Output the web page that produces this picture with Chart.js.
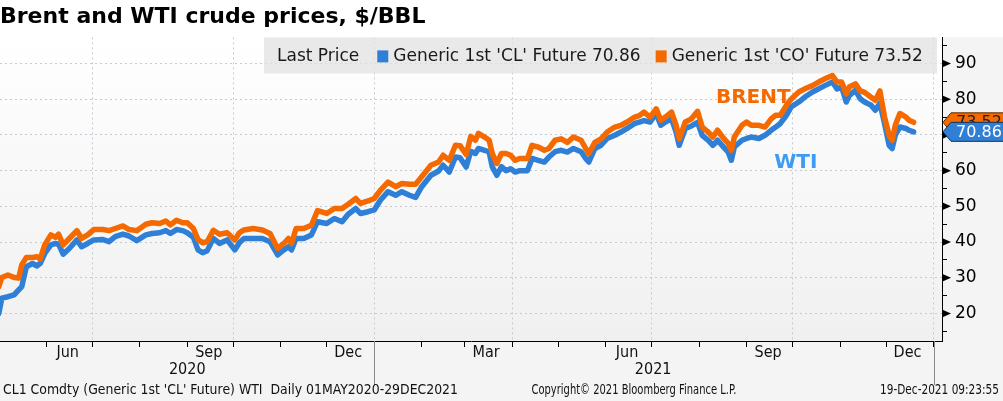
<!DOCTYPE html>
<html>
<head>
<meta charset="utf-8">
<title>Brent and WTI crude prices</title>
<script src="https://cdn.jsdelivr.net/npm/chart.js@4.4.1/dist/chart.umd.min.js"></script>
<style>
  html, body { margin: 0; padding: 0; background: #fff; }
</style>
</head>
<body>
<canvas id="crudeChart" width="1003" height="401"></canvas>
<script>
// price readings, Bloomberg generic 1st futures
const dates = [
  '2020-05-01','2020-05-03','2020-05-07','2020-05-11','2020-05-14','2020-05-16','2020-05-19','2020-05-23','2020-05-26','2020-05-28','2020-05-31',
  '2020-06-04','2020-06-07','2020-06-09','2020-06-12','2020-06-16','2020-06-21','2020-06-24','2020-06-28',
  '2020-07-02','2020-07-08','2020-07-12','2020-07-16','2020-07-21','2020-07-25','2020-07-30',
  '2020-08-05','2020-08-09','2020-08-14','2020-08-18','2020-08-21','2020-08-25','2020-08-29',
  '2020-09-01','2020-09-05','2020-09-08','2020-09-11','2020-09-14','2020-09-18','2020-09-22','2020-09-27',
  '2020-10-02','2020-10-05','2020-10-08','2020-10-14','2020-10-20','2020-10-25','2020-10-30',
  '2020-11-03','2020-11-06','2020-11-08','2020-11-11','2020-11-16','2020-11-21','2020-11-25',
  '2020-12-01','2020-12-06','2020-12-11','2020-12-15','2020-12-20','2020-12-23','2020-12-28',
  '2021-01-01','2021-01-05','2021-01-10','2021-01-15','2021-01-19','2021-01-24','2021-01-28',
  '2021-02-01','2021-02-07','2021-02-12','2021-02-15','2021-02-19','2021-02-23','2021-02-26',
  '2021-03-02','2021-03-05','2021-03-08','2021-03-10','2021-03-14','2021-03-17','2021-03-19','2021-03-22','2021-03-25','2021-03-28','2021-03-31',
  '2021-04-03','2021-04-06','2021-04-11','2021-04-14','2021-04-18','2021-04-22','2021-04-25','2021-04-29',
  '2021-05-03','2021-05-07','2021-05-11','2021-05-16','2021-05-19','2021-05-21','2021-05-25','2021-05-29',
  '2021-06-02','2021-06-07','2021-06-11','2021-06-15','2021-06-20','2021-06-23','2021-06-26','2021-06-30',
  '2021-07-04','2021-07-07','2021-07-10','2021-07-14','2021-07-17','2021-07-19','2021-07-23','2021-07-27','2021-07-31',
  '2021-08-03','2021-08-07','2021-08-10','2021-08-13','2021-08-17','2021-08-20','2021-08-22','2021-08-24','2021-08-29',
  '2021-09-01','2021-09-04','2021-09-09','2021-09-13','2021-09-17','2021-09-20','2021-09-23','2021-09-27','2021-09-30',
  '2021-10-05','2021-10-09','2021-10-14','2021-10-18','2021-10-22','2021-10-27','2021-10-30',
  '2021-11-02','2021-11-05','2021-11-07','2021-11-11','2021-11-14','2021-11-17','2021-11-21','2021-11-24','2021-11-27','2021-11-30',
  '2021-12-03','2021-12-05','2021-12-07','2021-12-10','2021-12-14','2021-12-16','2021-12-19'
];
const brent = [
  27.5, 30.1, 30.8, 30.1, 29.9, 33.6, 35.7, 35.7, 35.9, 35.2, 39.2,
  42.0, 41.3, 42.2, 39.2, 41.0, 43.2, 41.0, 42.0,
  43.5, 43.5, 43.2, 43.8, 44.5, 43.5, 43.2,
  45.0, 45.4, 45.2, 45.9, 44.8, 46.1, 45.4,
  45.4, 43.8, 40.7, 39.8, 40.1, 43.3, 42.2, 42.6,
  40.6, 42.6, 43.4, 43.8, 43.4, 42.4, 38.2,
  39.6, 41.0, 39.6, 43.8, 43.8, 44.7, 48.8,
  48.0, 49.4, 49.4, 50.6, 52.2, 50.8, 51.5,
  52.2, 54.5, 56.8, 55.5, 56.4, 56.2, 56.2,
  58.3, 61.5, 62.4, 64.3, 62.9, 67.1, 67.0,
  64.5, 69.6, 68.5, 70.4, 69.4, 68.5, 64.8, 62.0, 64.8, 64.8, 64.3,
  62.9, 63.4, 63.4, 67.1, 66.6, 65.7, 66.2, 68.5,
  68.9, 67.9, 69.4, 68.5, 66.2, 64.8, 67.9, 68.9,
  70.8, 72.2, 72.7, 73.6, 75.0, 75.4, 76.4, 75.0,
  77.3, 74.1, 75.0, 76.4, 72.7, 68.9, 73.6, 74.5, 76.6,
  72.2, 70.8, 69.4, 71.3, 69.0, 67.6, 65.7, 69.4, 72.7,
  73.6, 72.7, 72.7, 72.2, 74.5, 75.5, 75.5, 78.3, 80.0,
  82.0, 82.9, 83.8, 84.8, 85.7, 86.6, 84.8,
  84.8, 81.5, 83.4, 84.3, 82.4, 81.9, 80.6, 79.7, 82.3, 75.0,
  69.9, 68.5, 72.7, 76.0, 75.0, 74.1, 73.52
];
const wti = [
  20.0, 24.3, 24.7, 25.2, 26.6, 27.5, 33.1, 34.0, 33.3, 34.0, 36.8,
  39.2, 39.6, 39.4, 36.6, 38.2, 40.6, 38.7, 39.6,
  40.6, 40.7, 40.1, 41.5, 42.2, 41.7, 40.4,
  42.0, 42.4, 42.6, 43.2, 42.4, 43.5, 43.2,
  42.6, 41.3, 37.8, 37.0, 37.6, 41.0, 39.6, 40.6,
  37.8, 39.8, 41.0, 41.0, 41.0, 40.1, 36.4,
  37.8, 38.7, 37.8, 41.0, 41.0, 42.0, 45.7,
  45.2, 46.6, 45.7, 47.8, 49.4, 48.0, 48.5,
  49.0, 51.7, 54.1, 53.1, 54.1, 53.1, 52.5,
  55.5, 58.7, 59.9, 61.5, 59.6, 63.8, 63.6,
  61.0, 65.4, 64.8, 66.2, 65.7, 65.2, 61.1, 58.7, 61.1, 60.0, 60.5,
  59.6, 60.0, 60.0, 63.4, 62.9, 62.4, 63.8, 65.3,
  65.7, 65.2, 66.2, 65.3, 63.4, 62.4, 66.2, 67.1,
  69.0, 69.9, 70.8, 71.8, 73.2, 73.6, 74.0, 73.6,
  76.0, 72.7, 73.6, 74.5, 70.8, 67.1, 71.8, 72.5, 73.5,
  69.9, 68.5, 67.1, 68.5, 66.6, 65.2, 62.9, 66.6, 68.5,
  69.0, 69.4, 69.0, 69.9, 71.3, 72.2, 73.2, 75.5, 77.8,
  79.2, 80.6, 82.0, 82.9, 83.8, 84.8, 82.9,
  83.4, 79.2, 81.0, 82.5, 80.2, 79.2, 78.4, 76.9, 78.9, 73.2,
  67.1, 66.2, 69.9, 72.2, 71.8, 71.3, 70.86
];

const yTicks = [15, 20, 25, 30, 35, 40, 45, 50, 55, 60, 65, 70, 75, 80, 85, 90, 95];
const monthLabels = ['Jun', 'Sep', 'Dec', 'Mar', 'Jun', 'Sep', 'Dec'];
const monthLabelDates = ['2020-06-15', '2020-09-15', '2020-12-15', '2021-03-15', '2021-06-15', '2021-09-15', '2021-12-15'];
const yearLabels = ['2020', '2021'];
const yearLabelDates = ['2020-09-01', '2021-07-02'];

const BLUE = '#2f7fd6';
const ORANGE = '#f56a00';
const GRID = '#c5cad3';
const AXIS_FONT = '"DejaVu Sans Condensed", "DejaVu Sans", sans-serif';

const t0 = Date.UTC(2020, 4, 1);
const dayOf = s => (Date.parse(s) - t0) / 864e5;

// month boundaries Jun 2020 .. Jan 2022 for the tick marks
const monthTicks = [];
for (let m = 5; m <= 24; m++) {
  const yr = 2020 + Math.floor(m / 12), mm = m % 12;
  monthTicks.push({ value: (Date.UTC(yr, mm, 1) - t0) / 864e5, quarter: mm % 3 === 0, yearStart: mm === 0 });
}

const toPoints = arr => arr.map((v, i) => ({ x: dayOf(dates[i]), y: v }));

// draws text squeezed horizontally to a given width (narrow Bloomberg footer font)
function narrowText(ctx, text, x, y, align, width, size) {
  ctx.save();
  ctx.font = size + 'px "DejaVu Sans", sans-serif';
  const w = ctx.measureText(text).width;
  const sx = Math.min(1, width / w);
  ctx.translate(x, y);
  ctx.scale(sx, 1);
  ctx.textAlign = align;
  ctx.textBaseline = 'middle';
  ctx.fillText(text, 0, 0);
  ctx.restore();
}

function valueTag(ctx, x, y, text, fill, stroke, textColor) {
  const h = 19, w = 70;
  ctx.beginPath();
  ctx.moveTo(x, y);
  ctx.lineTo(x + 8, y - h / 2);
  ctx.lineTo(x + w, y - h / 2);
  ctx.lineTo(x + w, y + h / 2);
  ctx.lineTo(x + 8, y + h / 2);
  ctx.closePath();
  ctx.fillStyle = fill;
  ctx.fill();
  ctx.lineWidth = 1;
  ctx.strokeStyle = stroke;
  ctx.stroke();
  ctx.fillStyle = textColor;
  ctx.font = '16px "DejaVu Sans", sans-serif';
  ctx.textAlign = 'left';
  ctx.textBaseline = 'middle';
  ctx.fillText(text, x + 13, y + 1);
}

const bloombergDecor = {
  id: 'bloombergDecor',
  beforeDraw(chart) {
    const { ctx, chartArea: a, width, height } = chart;
    ctx.save();
    ctx.fillStyle = '#fff';
    ctx.fillRect(0, 0, width, height);
    ctx.fillStyle = '#f4f4f4';
    ctx.fillRect(0, a.bottom, width, height - a.bottom);
    ctx.fillRect(a.right, a.top, width - a.right, a.bottom - a.top);
    const g = ctx.createLinearGradient(0, a.top, 0, a.bottom);
    g.addColorStop(0, '#ffffff');
    g.addColorStop(1, '#f0f0f0');
    ctx.fillStyle = g;
    ctx.fillRect(a.left, a.top, a.right - a.left, a.bottom - a.top);
    ctx.restore();
  },
  beforeDatasetsDraw(chart) {
    const { ctx, chartArea: a } = chart;
    ctx.save();
    ctx.fillStyle = 'rgba(226,226,226,0.75)';
    ctx.fillRect(264, a.top, a.right - 5 - 264, 36);
    ctx.font = '17px "DejaVu Sans", sans-serif';
    ctx.textBaseline = 'middle';
    ctx.textAlign = 'left';
    const cy = a.top + 19;
    let x = 277;
    ctx.fillStyle = '#1a1a1a';
    ctx.fillText('Last Price', x, cy);
    x += ctx.measureText('Last Price').width + 18;
    chart.data.datasets.forEach(ds => {
      ctx.fillStyle = ds.borderColor;
      ctx.fillRect(x, cy - 6, 11, 12);
      x += 16;
      ctx.fillStyle = '#1a1a1a';
      ctx.fillText(ds.label, x, cy);
      x += ctx.measureText(ds.label).width + 15;
    });
    ctx.restore();
  },
  afterDraw(chart) {
    const { ctx, chartArea: a, scales } = chart;
    const xs = scales.x, ys = scales.y;
    ctx.save();

    // long separators at year boundaries
    ctx.strokeStyle = '#8a8a8a';
    ctx.lineWidth = 1;
    monthTicks.filter(t => t.yearStart).forEach(t => {
      const px = Math.round(xs.getPixelForValue(t.value)) + 0.5;
      ctx.beginPath();
      ctx.moveTo(px, a.bottom);
      ctx.lineTo(px, 385);
      ctx.stroke();
    });

    // arrow heads on the major y ticks
    ctx.fillStyle = '#000';
    yTicks.filter(v => v % 10 === 0).forEach(v => {
      const py = ys.getPixelForValue(v);
      ctx.beginPath();
      ctx.moveTo(a.right, py - 4);
      ctx.lineTo(a.right + 9, py);
      ctx.lineTo(a.right, py + 4);
      ctx.closePath();
      ctx.fill();
    });

    // last value tags
    valueTag(ctx, a.right + 1, ys.getPixelForValue(brent[brent.length - 1]), brent[brent.length - 1].toFixed(2), ORANGE, '#5a2a00', '#222');
    valueTag(ctx, a.right + 1, ys.getPixelForValue(wti[wti.length - 1]), wti[wti.length - 1].toFixed(2), BLUE, '#12345a', '#fff');

    // series annotations
    ctx.font = 'bold 20px "DejaVu Sans", sans-serif';
    ctx.textAlign = 'left';
    ctx.textBaseline = 'middle';
    ctx.fillStyle = ORANGE;
    ctx.fillText('BRENT', xs.getPixelForValue(dayOf('2021-08-12')), ys.getPixelForValue(80.4));
    ctx.fillStyle = '#3d9bf5';
    ctx.fillText('WTI', xs.getPixelForValue(dayOf('2021-09-19')), ys.getPixelForValue(62.2));

    // footer
    ctx.fillStyle = '#111';
    const fy = 390;
    narrowText(ctx, "CL1 Comdty (Generic 1st 'CL' Future) WTI  Daily 01MAY2020-29DEC2021", 3, fy, 'left', 455, 14);
    narrowText(ctx, 'Copyright\u00A9 2021 Bloomberg Finance L.P.', 634, fy, 'center', 205, 14);
    narrowText(ctx, '19-Dec-2021 09:23:55', 999, fy, 'right', 119, 14);
    ctx.restore();
  }
};

new Chart(document.getElementById('crudeChart'), {
  type: 'line',
  data: {
    datasets: [
      {
        label: "Generic 1st 'CL' Future 70.86",
        data: toPoints(wti),
        borderColor: BLUE,
        backgroundColor: BLUE,
        borderWidth: 5.5,
        pointRadius: 0,
        borderJoinStyle: 'round',
        borderCapStyle: 'round',
        order: 2
      },
      {
        label: "Generic 1st 'CO' Future 73.52",
        data: toPoints(brent),
        borderColor: ORANGE,
        backgroundColor: ORANGE,
        borderWidth: 5.5,
        pointRadius: 0,
        borderJoinStyle: 'round',
        borderCapStyle: 'round',
        order: 1
      }
    ]
  },
  options: {
    responsive: false,
    animation: false,
    layout: { padding: { left: 0, right: 0, top: 0, bottom: 24 } },
    plugins: {
      legend: { display: false },
      tooltip: { enabled: false },
      title: {
        display: true,
        text: 'Brent and WTI crude prices, $/BBL',
        align: 'start',
        color: '#000',
        font: { family: '"DejaVu Sans", sans-serif', weight: 'bold', size: 22, lineHeight: 1.2 },
        padding: { top: 4, bottom: 7 }
      }
    },
    scales: {
      x: {
        type: 'linear',
        position: 'bottom',
        weight: 0,
        min: 0.8,
        max: 615.5,
        afterBuildTicks: s => { s.ticks = monthTicks.map(t => ({ value: t.value })); },
        afterFit: s => { s.height = 2; },
        ticks: { autoSkip: false, maxRotation: 0, padding: 0, callback: () => '' },
        grid: {
          color: c => (monthTicks[c.index] && monthTicks[c.index].quarter) ? GRID : 'transparent',
          lineWidth: 1,
          tickColor: '#000',
          tickWidth: 1,
          tickLength: 6
        },
        border: { display: true, color: '#000', width: 1, dash: [2, 3] }
      },
      xm: {
        type: 'linear',
        position: 'bottom',
        weight: 1,
        min: 0.8,
        max: 615.5,
        afterBuildTicks: s => { s.ticks = monthLabelDates.map(d => ({ value: dayOf(d) })); },
        afterFit: s => { s.height = 17; },
        ticks: {
          autoSkip: false, maxRotation: 0, padding: 0, color: '#111',
          font: { family: AXIS_FONT, size: 16 },
          callback: (v, i) => monthLabels[i]
        },
        grid: { display: false, drawTicks: false },
        border: { display: false }
      },
      xy: {
        type: 'linear',
        position: 'bottom',
        weight: 2,
        min: 0.8,
        max: 615.5,
        afterBuildTicks: s => { s.ticks = yearLabelDates.map(d => ({ value: dayOf(d) })); },
        afterFit: s => { s.height = 17; },
        ticks: {
          autoSkip: false, maxRotation: 0, padding: 0, color: '#111',
          font: { family: AXIS_FONT, size: 16 },
          callback: (v, i) => yearLabels[i]
        },
        grid: { display: false, drawTicks: false },
        border: { display: false }
      },
      y: {
        type: 'linear',
        position: 'right',
        min: 12.3,
        max: 97.3,
        afterBuildTicks: s => { s.ticks = yTicks.map(v => ({ value: v })); },
        afterFit: s => { s.width = 61; },
        ticks: {
          autoSkip: false, padding: 8, color: '#000',
          font: { family: '"DejaVu Sans", sans-serif', size: 17 },
          callback: v => (v % 10 === 0 ? String(v) : '')
        },
        grid: {
          color: c => (c.tick && c.tick.value % 10 === 0) ? GRID : 'transparent',
          lineWidth: 1,
          tickColor: '#000',
          tickWidth: 1,
          tickLength: 5
        },
        border: { display: true, color: '#000', width: 1, dash: [2, 3] }
      }
    }
  },
  plugins: [bloombergDecor]
});
</script>
</body>
</html>
